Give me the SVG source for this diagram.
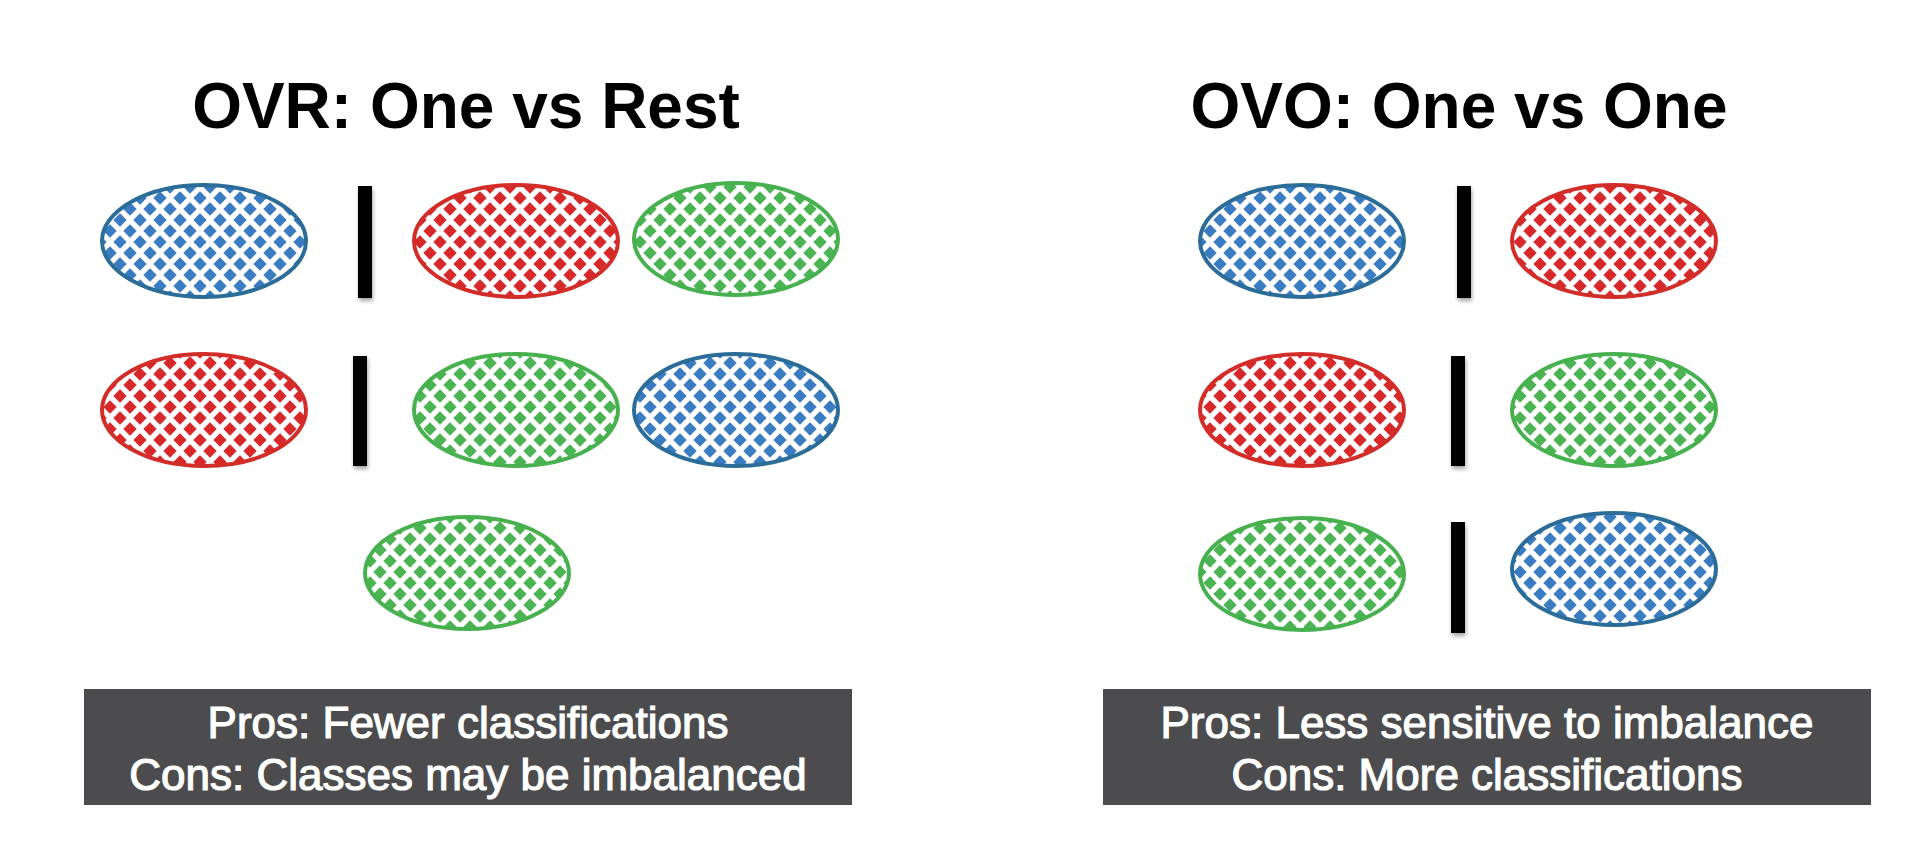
<svg xmlns="http://www.w3.org/2000/svg" width="1930" height="844" viewBox="0 0 1930 844">
  <defs>
    <path id="dia" d="M0,-6.7 L6.7,0 L0,6.7 L-6.7,0 Z"/>
    <g id="tile">
      <use href="#dia" x="0" y="0"/>
      <use href="#dia" x="20" y="0"/>
      <use href="#dia" x="0" y="22"/>
      <use href="#dia" x="20" y="22"/>
      <use href="#dia" x="10" y="11"/>
    </g>
    <pattern id="pBlue" patternUnits="userSpaceOnUse" width="20" height="22">
      <rect width="20" height="22" fill="#ffffff"/>
      <use href="#tile" fill="#3a7cc1"/>
    </pattern>
    <pattern id="pRed" patternUnits="userSpaceOnUse" width="20" height="22">
      <rect width="20" height="22" fill="#ffffff"/>
      <use href="#tile" fill="#d7282a"/>
    </pattern>
    <pattern id="pGreen" patternUnits="userSpaceOnUse" width="20" height="22">
      <rect width="20" height="22" fill="#ffffff"/>
      <use href="#tile" fill="#4bb553"/>
    </pattern>
    <filter id="sh" x="-50%" y="-10%" width="200%" height="130%">
      <feGaussianBlur in="SourceAlpha" stdDeviation="2"/>
      <feOffset dx="1" dy="3" result="b"/>
      <feComponentTransfer><feFuncA type="linear" slope="0.35"/></feComponentTransfer>
      <feMerge><feMergeNode/><feMergeNode in="SourceGraphic"/></feMerge>
    </filter>
  </defs>
  <style>
    .title { font-family: "Liberation Sans", Arial, sans-serif; font-weight: bold; font-size: 64px; fill: #000000; text-anchor: middle; }
    .box { fill: #4c4c4e; }
    .boxtxt { font-family: "Liberation Sans", Arial, sans-serif; font-size: 44px; fill: #ffffff; stroke: #ffffff; stroke-width: 1.2px; text-anchor: middle; }
    .blue { fill: url(#pBlue); stroke: #2b6d98; stroke-width: 4; }
    .red { fill: url(#pRed); stroke: #d22d28; stroke-width: 4; }
    .green { fill: url(#pGreen); stroke: #46b14e; stroke-width: 4; }
    .bar { fill: #000000; filter: url(#sh); }
  </style>
  <rect width="1930" height="844" fill="#ffffff"/>

  <g id="ovr-title"><text class="title" x="466" y="128">OVR: One vs Rest</text></g>
  <g id="ovo-title"><text class="title" x="1459" y="128">OVO: One vs One</text></g>

  <g id="ovr-row1">
    <ellipse class="blue" cx="204" cy="241" rx="102" ry="56"/>
    <rect class="bar" x="358" y="186" width="14" height="112"/>
    <ellipse class="red" cx="516" cy="241" rx="102" ry="56"/>
    <ellipse class="green" cx="736" cy="239" rx="102" ry="56"/>
  </g>
  <g id="ovr-row2">
    <ellipse class="red" cx="204" cy="410" rx="102" ry="56"/>
    <rect class="bar" x="353" y="356" width="14" height="110"/>
    <ellipse class="green" cx="516" cy="410" rx="102" ry="56"/>
    <ellipse class="blue" cx="736" cy="410" rx="102" ry="56"/>
  </g>
  <g id="ovr-row3">
    <ellipse class="green" cx="467" cy="573" rx="102" ry="56"/>
  </g>

  <g id="ovo-row1">
    <ellipse class="blue" cx="1302" cy="241" rx="102" ry="56"/>
    <rect class="bar" x="1457" y="186" width="14" height="112"/>
    <ellipse class="red" cx="1614" cy="241" rx="102" ry="56"/>
  </g>
  <g id="ovo-row2">
    <ellipse class="red" cx="1302" cy="410" rx="102" ry="56"/>
    <rect class="bar" x="1451" y="356" width="14" height="110"/>
    <ellipse class="green" cx="1614" cy="410" rx="102" ry="56"/>
  </g>
  <g id="ovo-row3">
    <ellipse class="green" cx="1302" cy="574" rx="102" ry="56"/>
    <rect class="bar" x="1451" y="522" width="14" height="111"/>
    <ellipse class="blue" cx="1614" cy="569" rx="102" ry="56"/>
  </g>

  <g id="ovr-box">
    <rect class="box" x="84" y="689" width="768" height="116"/>
    <text class="boxtxt" x="468" y="738">Pros: Fewer classifications</text>
    <text class="boxtxt" x="468" y="790">Cons: Classes may be imbalanced</text>
  </g>
  <g id="ovo-box">
    <rect class="box" x="1103" y="689" width="768" height="116"/>
    <text class="boxtxt" x="1487" y="738">Pros: Less sensitive to imbalance</text>
    <text class="boxtxt" x="1487" y="790">Cons: More classifications</text>
  </g>

  <g id="connectors"/>
</svg>
